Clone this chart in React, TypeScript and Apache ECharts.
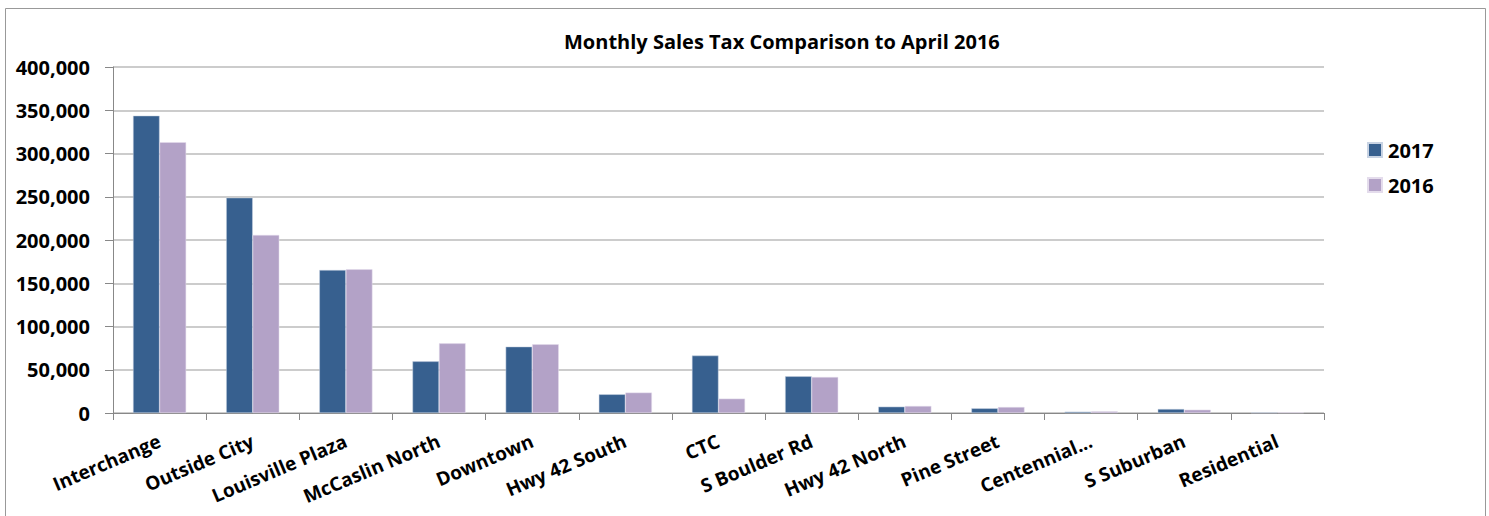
import React, { useEffect, useRef } from "react";
import * as echarts from "echarts";

const categories = [
  "Interchange",
  "Outside City",
  "Louisville Plaza",
  "McCaslin North",
  "Downtown",
  "Hwy 42 South",
  "CTC",
  "S Boulder Rd",
  "Hwy 42 North",
  "Pine Street",
  "Centennial...",
  "S Suburban",
  "Residential",
];
const sales2017 = [343700, 248900, 165300, 59700, 76700, 21600, 66400, 42400, 7300, 5400, 1500, 4600, 500];
const sales2016 = [313000, 205800, 166100, 80500, 79400, 23600, 16600, 41600, 8100, 6900, 1900, 3800, 600];
const seriesNames = ["2017", "2016"];
const colors = ["#37608F", "#B3A2C7"];

const FONT = "'Open Sans', 'Noto Sans', sans-serif";

export default function App() {
  const ref = useRef<HTMLDivElement>(null);
  useEffect(() => {
    if (!ref.current) return;
    const chart = echarts.init(ref.current, undefined, { renderer: "svg" });
    chart.setOption({
      animation: false,
      backgroundColor: "#ffffff",
      title: {
        text: "Monthly Sales Tax Comparison to April 2016",
        left: 564,
        top: 31,
        padding: 0,
        textStyle: { fontFamily: FONT, fontWeight: "bold", fontSize: 20, color: "#000" },
      },
      legend: {
        orient: "vertical",
        left: 1367,
        top: 140,
        padding: 0,
        itemWidth: 14,
        itemHeight: 14,
        itemGap: 15,
        icon: "rect",
        data: seriesNames,
        textStyle: { fontFamily: FONT, fontWeight: "bold", fontSize: 20, color: "#000", padding: [0, 0, 0, 1] },
      },
      graphic: [
        {
          type: "rect",
          shape: { x: 5.5, y: 8.5, width: 1480, height: 520 },
          style: { fill: "none", stroke: "#999", lineWidth: 1 },
          silent: true,
        },
      ],
      grid: { left: 113, right: 165, top: 67, bottom: 103, containLabel: false },
      xAxis: {
        type: "category",
        data: categories,
        axisLine: { lineStyle: { color: "#888", width: 1 } },
        axisTick: { show: true, length: 7, alignWithLabel: false, lineStyle: { color: "#888" } },
        axisLabel: {
          rotate: 23,
          interval: 0,
          margin: 27,
          fontFamily: FONT,
          fontWeight: "bold",
          fontSize: 19,
          color: "#000",
        },
      },
      yAxis: {
        type: "value",
        min: 0,
        max: 400000,
        interval: 50000,
        axisLine: { show: true, lineStyle: { color: "#888", width: 1 } },
        axisTick: { show: true, length: 8, lineStyle: { color: "#888" } },
        splitLine: { lineStyle: { color: "#BBBBBB", width: 1.5 } },
        axisLabel: {
          margin: 23,
          fontFamily: FONT,
          fontWeight: "bold",
          fontSize: 20,
          color: "#000",
          formatter: (v: number) => v.toLocaleString("en-US"),
        },
      },
      series: [
        {
          name: seriesNames[0],
          type: "bar",
          data: sales2017,
          barGap: "0%",
          barCategoryGap: "43%",
          itemStyle: { color: colors[0], borderColor: "#C8D3E3", borderWidth: 0.5 },
        },
        {
          name: seriesNames[1],
          type: "bar",
          data: sales2016,
          itemStyle: { color: colors[1], borderColor: "#E4DCEC", borderWidth: 0.5 },
        },
      ],
    });
    return () => chart.dispose();
  }, []);
  return (
    <div
      ref={ref}
      style={{ position: "absolute", left: 0, top: 0, width: 1489, height: 516 }}
    />
  );
}
